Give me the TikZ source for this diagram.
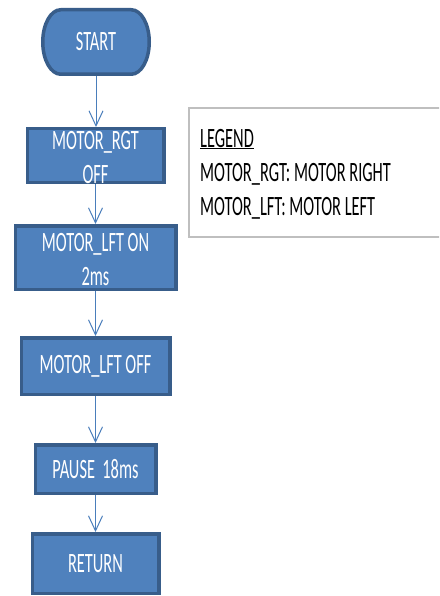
\documentclass[tikz,border=0pt]{standalone}
\usepackage{fontspec}
\setmainfont{Carlito}[FakeStretch=0.585]
\usetikzlibrary{arrows.meta}
\definecolor{boxfill}{HTML}{4F81BD}
\definecolor{boxline}{HTML}{385D8A}
\definecolor{arrowc}{HTML}{4A7EBB}
\definecolor{leggray}{HTML}{BFBFBF}
\tikzset{
  flowtext/.style={text=white, font=\fontsize{28}{34}\selectfont, align=center},
  procbox/.style={draw=boxline, fill=boxfill, line width=3.5pt, inner sep=0pt, flowtext},
  termshape/.style={draw=boxline, fill=boxfill, line width=3.5pt},
  flowarrow/.style={draw=arrowc, line width=1pt, -{Straight Barb[length=15pt,width=14pt,line width=1pt]}},
  legendbox/.style={draw=leggray, fill=white, line width=2pt, inner sep=0pt},
  legtext/.style={text=black, font=\fontsize{28}{34}\selectfont, inner sep=0pt, anchor=base west}
}
\begin{document}
\begin{tikzpicture}[x=1pt,y=-1pt]
\useasboundingbox (0,0) rectangle (439,596);
\clip (0,0) rectangle (439,596);
\fill[white] (0,0) rectangle (439,596);
% terminator shape for START
\draw[termshape] (60.75,9.75) -- (131.25,9.75)
  .. controls (141.19,9.75) and (149.25,24.19) .. (149.25,42)
  .. controls (149.25,59.81) and (141.19,74.25) .. (131.25,74.25)
  -- (60.75,74.25)
  .. controls (50.81,74.25) and (42.75,59.81) .. (42.75,42)
  .. controls (42.75,24.19) and (50.81,9.75) .. (60.75,9.75) -- cycle;
\node[flowtext, minimum width=110pt, minimum height=68pt, inner sep=0pt] (start) at (96,42) {START};
\node[procbox, minimum width=136.5pt, minimum height=53.5pt,
  label={[flowtext, yshift=-2.5pt]center:MOTOR\_RGT\\OFF}] (rgt) at (95.5,155.5) {};
\node[procbox, minimum width=160.5pt, minimum height=63.5pt,
  label={[flowtext, yshift=-2.5pt]center:MOTOR\_LFT ON\\2ms}] (lfton) at (95.5,257.5) {};
\node[procbox, minimum width=148.5pt, minimum height=56.5pt] (lftoff) at (95.5,366) {MOTOR\_LFT OFF};
\node[procbox, minimum width=120.5pt, minimum height=48.5pt] (pause) at (95.5,469) {PAUSE\ \ 18ms};
\node[procbox, minimum width=126.5pt, minimum height=59.5pt] (ret) at (95.5,563.5) {RETURN};
\draw[flowarrow] (start.south) -- (start.south |- rgt.north);
\draw[flowarrow] (rgt.south) -- (lfton.north);
\draw[flowarrow] (lfton.south) -- (lftoff.north);
\draw[flowarrow] (lftoff.south) -- (pause.north);
\draw[flowarrow] (pause.south) -- (ret.north);
% legend
\node[legendbox, anchor=north west, minimum width=280pt, minimum height=129pt] (legend) at (188,107) {};
\node[legtext] (leg1) at (200,147) {\underline{LEGEND}};
\node[legtext] (leg2) at (200,181) {MOTOR\_RGT: MOTOR RIGHT};
\node[legtext] (leg3) at (200,215) {MOTOR\_LFT: MOTOR LEFT};
\end{tikzpicture}
\end{document}
